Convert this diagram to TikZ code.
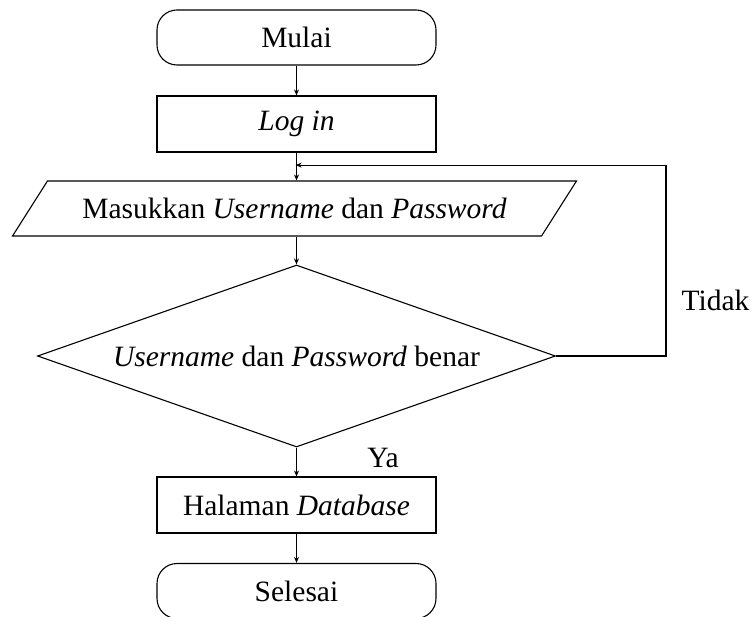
\documentclass[tikz,border=0pt]{standalone}
\usepackage{fontspec}
\setmainfont{Liberation Serif}
\usepackage{tikz}
\usetikzlibrary{
  arrows.meta, positioning, shapes.geometric,
  shapes.misc, calc
}

\begin{document}
\begin{tikzpicture}[
  x=1pt, y=-1pt,
  term/.style={rectangle, rounded corners=20pt, draw=black, line width=1.1pt,
               minimum height=55pt, minimum width=279pt, align=center},
  proc/.style={rectangle, draw=black, line width=1.1pt,
               minimum height=56pt, minimum width=279pt, align=center},
  io/.style={trapezium, trapezium left angle=42, trapezium right angle=138,
             trapezium stretches=true, draw=black, line width=1.1pt,
             minimum height=55pt, minimum width=565pt, align=center},
  dec/.style={diamond, draw=black, line width=1.1pt, aspect=2.85, inner sep=0pt,
              minimum width=518pt, minimum height=182pt, align=center},
  arr/.style={-{Stealth[length=6pt, width=5pt]}, line width=1.1pt},
  every node/.style={font=\fontsize{29.5}{33}\selectfont}
]
  \useasboundingbox (0,0) rectangle (754,617);

  \node[term] (mulai)   at (296.5, 37.5)  {Mulai};
  \node[proc] (login)   at (296.5, 124)   {\textit{Log in}};
  \node[io]   (input)   at (294.5, 208.5) {Masukkan \textit{Username} dan \textit{Password}};
  \node[dec]  (cek)     at (296.5, 356)   {\textit{Username} dan \textit{Password} benar};
  \node[proc] (db)      at (296.5, 505)   {Halaman \textit{Database}};
  \node[term] (selesai) at (296.5, 591)   {Selesai};

  \coordinate (balik) at ($(login.south)!0.45!(input.north)$);
  \coordinate (kanan) at (666, 356);

  \draw[arr] (mulai) -- (login);
  \draw[arr] (login) -- (login |- input.north);
  \draw[arr] (input.south -| cek.north) -- (cek.north);
  \draw[arr] (cek.east) -- (kanan) |- (balik);
  \draw[arr] (cek.south) -- (db.north);
  \draw[arr] (db) -- (selesai);

  \node (ya)    at (383, 458)  {Ya};
  \node[anchor=east] (tidak) at (753, 300) {Tidak};
\end{tikzpicture}
\end{document}
